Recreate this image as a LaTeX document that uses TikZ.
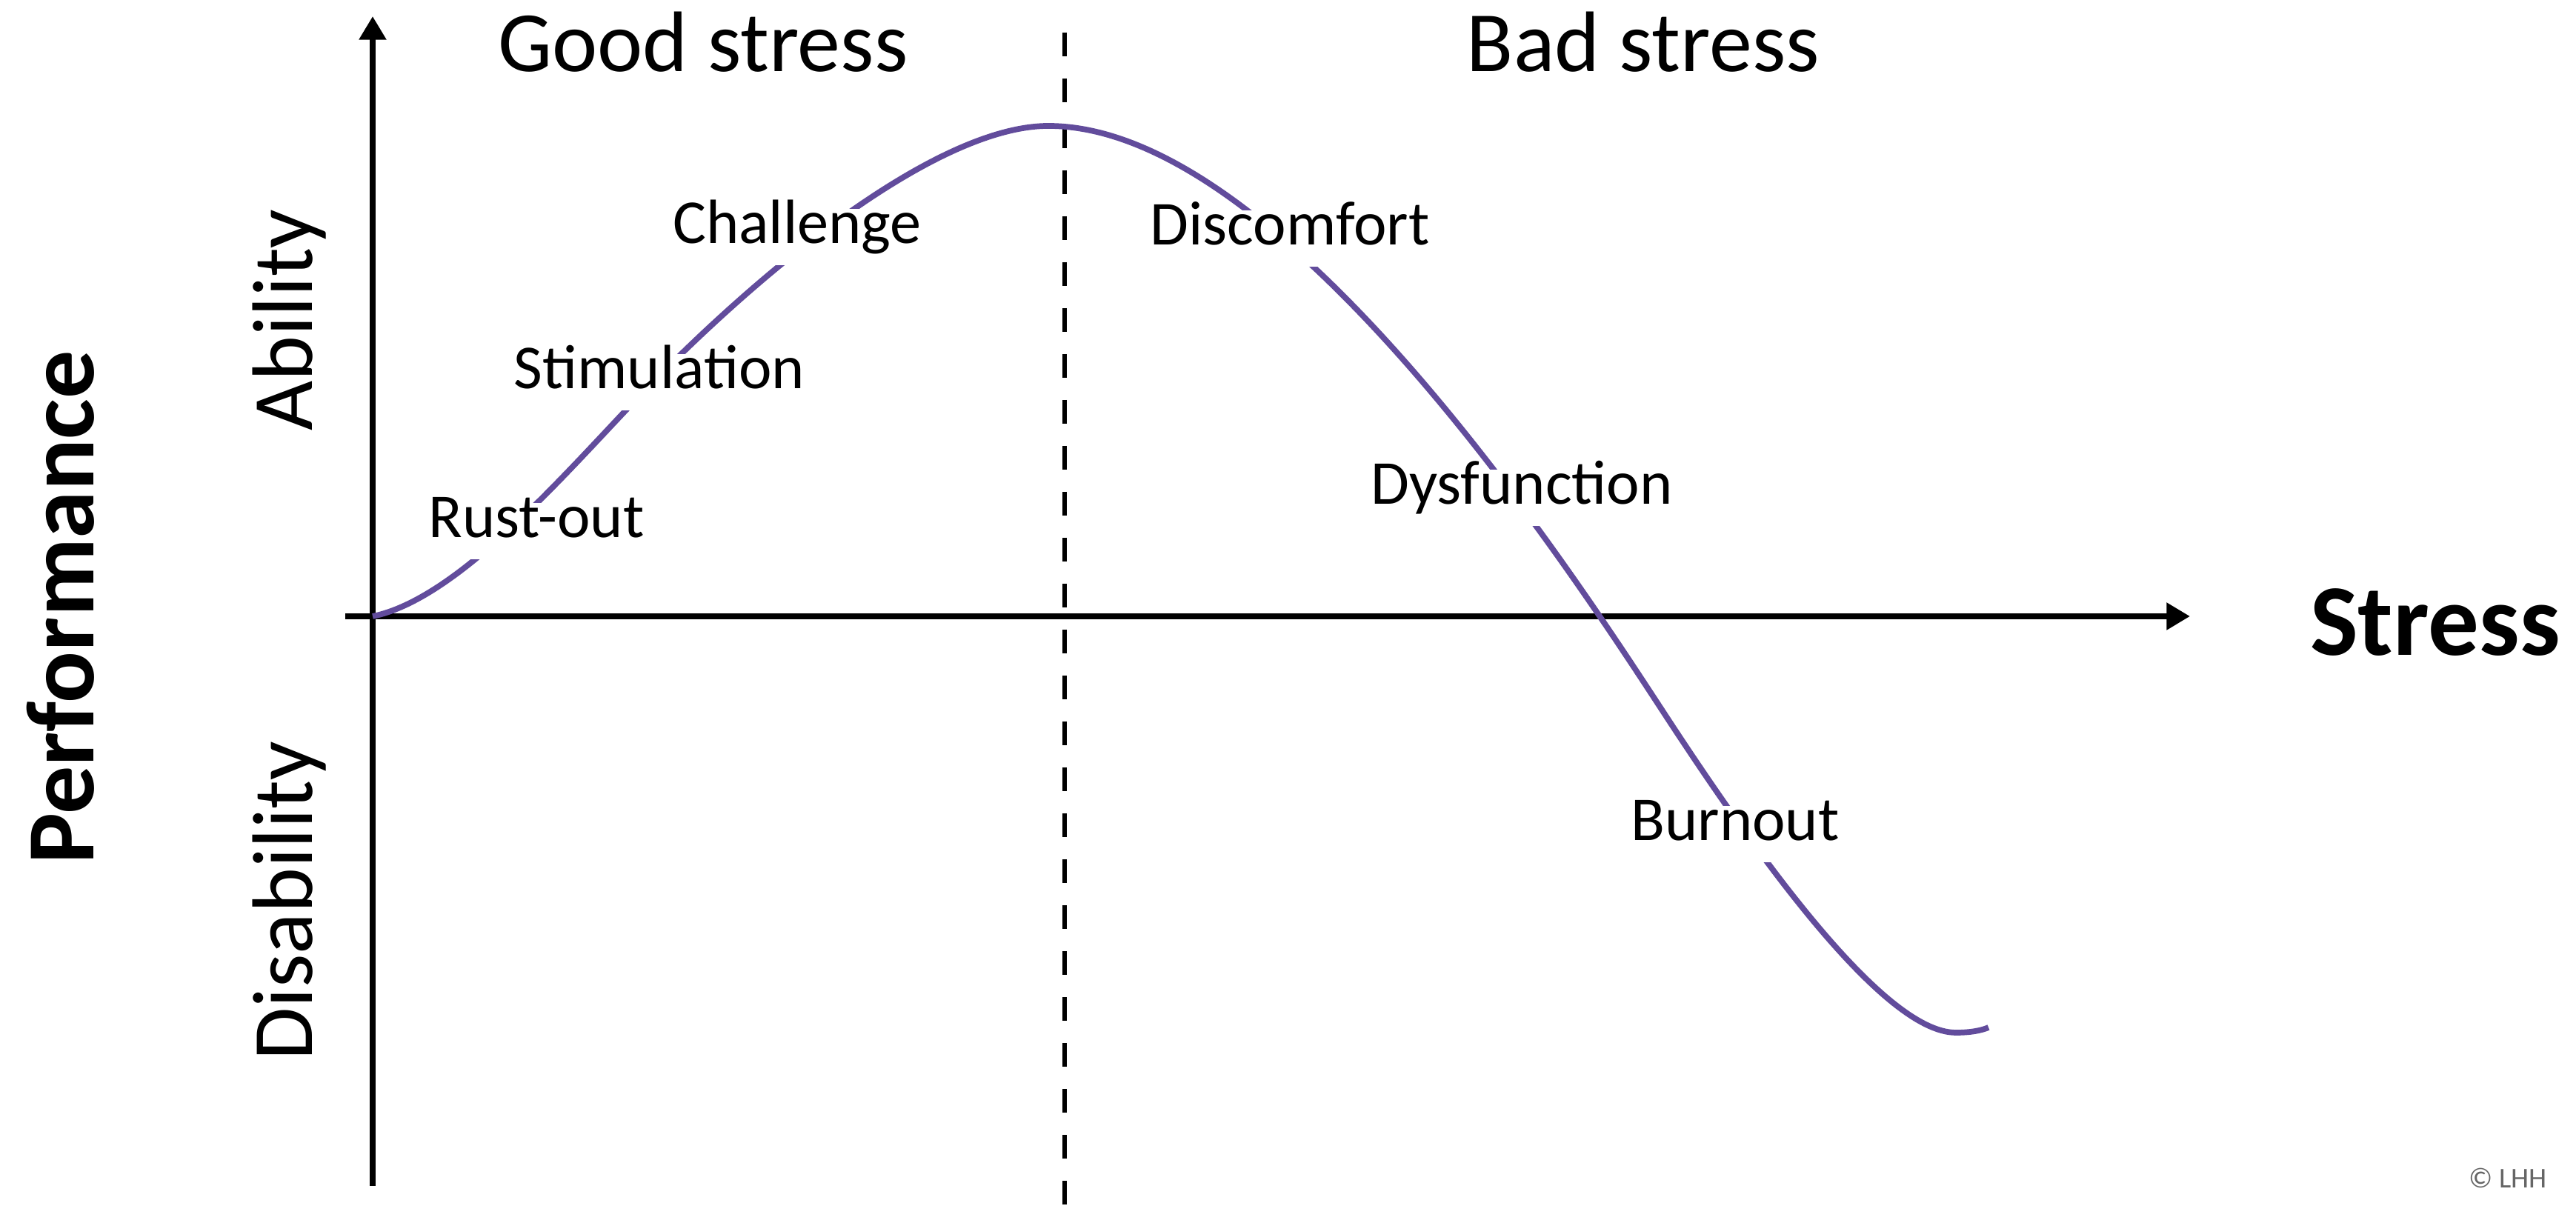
\documentclass[tikz,border=0pt]{standalone}
\usepackage{fontspec}
\setmainfont{Carlito}
\usepackage{xcolor}
\usetikzlibrary{arrows.meta}
\definecolor{curvepurple}{RGB}{98,76,156}
\tikzset{
  axis/.style={line width=2.2pt, -{Triangle[width=10pt,length=9pt]}},
  divider/.style={line width=1.8pt, dash pattern=on 0.32cm off 0.30cm},
  stage/.style={font=\fontsize{24}{28}\selectfont, fill=white, anchor=base,
    text height=0.7em, text depth=0.2em, inner sep=0.22cm},
  zone/.style={font=\fontsize{33}{38}\selectfont, anchor=base},
}

\begin{document}
\begin{tikzpicture}
    \useasboundingbox (0,0) rectangle (34.77,16.51);
    % axes
    \coordinate (O) at (5.03,8.19);
    \coordinate (ybot) at (5.03,0.50);
    \coordinate (ytop) at (5.03,16.29);
    \coordinate (xleft) at (4.66,8.19);
    \coordinate (xright) at (29.56,8.19);
    \coordinate (dtop) at (14.37,16.07);
    \coordinate (dbot) at (14.37,0);
    \draw[axis] (ybot) -- (ytop);
    \draw[axis] (xleft) -- (xright);
    \draw[divider] (dtop) -- (dbot);
    % the curve
    \coordinate (up) at (8.94,11.48);
    \coordinate (peak) at (14.15,14.81);
    \coordinate (down) at (22.43,6.93);
    \coordinate (low) at (26.40,2.57);
    \coordinate (tail) at (26.84,2.64);
    \draw[curvepurple, line width=2.2pt]
      (O) .. controls (6.3,8.45) and (7.9,10.45) .. (up)
          .. controls (10.7,13.24) and (12.8,14.81) .. (peak)
          .. controls (17.3,14.81) and (21.2,8.81) .. (down)
          .. controls (23.63,5.09) and (25.4,2.57) .. (low)
          .. controls (26.6,2.57) and (26.75,2.6) .. (tail);
    % stages along the curve
    \node[stage] (rust) at (7.24,9.25) {Rust-out};
    \node[stage] (stim) at (8.90,11.26) {Stimulation};
    \node[stage] (chal) at (10.76,13.22) {Challenge};
    \node[stage] (disc) at (17.41,13.20) {Discomfort};
    \node[stage] (dysf) at (20.54,9.70) {Dysfunction};
    \node[stage] (burn) at (23.42,5.16) {Burnout};
    % zones and axis titles
    \node[zone] (good) at (9.49,15.54) {Good stress};
    \node[zone] (bad) at (22.18,15.54) {Bad stress};
    \node[zone, rotate=90] (abil) at (4.21,12.19) {Ability};
    \node[zone, rotate=90] (disab) at (4.21,4.35) {Disability};
    \node[font=\fontsize{39}{44}\selectfont\bfseries, anchor=base] (stress) at (32.87,7.66) {Stress};
    \node[font=\fontsize{37}{42}\selectfont\bfseries, anchor=base, rotate=90] (perf) at (1.26,8.31) {Performance};
    \node[font=\fontsize{11}{13}\selectfont, text=black!60] (copy) at (33.85,0.61) {© LHH};
\end{tikzpicture}
\end{document}
